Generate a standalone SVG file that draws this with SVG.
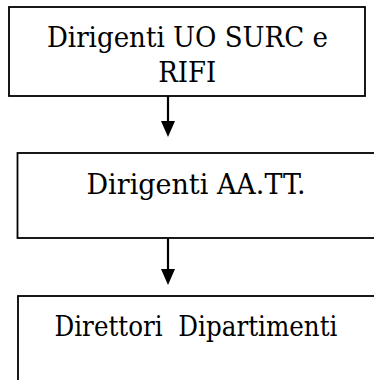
<svg xmlns="http://www.w3.org/2000/svg" width="374" height="380" viewBox="0 0 374 380">
<style>
.box{fill:#fff;stroke:#000;stroke-width:1.8}
.lbl{font-family:"DejaVu Serif",serif;font-size:28px;fill:#000;text-anchor:middle}
.conn{stroke:#000;stroke-width:2.2;fill:none}
.head{fill:#000}
</style>
<rect width="374" height="380" fill="#fff"/>
<g id="node1">
<rect class="box" x="9" y="7" width="356" height="89"/>
<text class="lbl" x="187.4" y="47" textLength="281" lengthAdjust="spacingAndGlyphs">Dirigenti UO SURC e</text>
<text class="lbl" x="187.3" y="82" textLength="58" lengthAdjust="spacingAndGlyphs">RIFI</text>
</g>
<g id="node2">
<rect class="box" x="17.5" y="153" width="362" height="85"/>
<text class="lbl" x="196" y="194" textLength="219" lengthAdjust="spacingAndGlyphs">Dirigenti AA.TT.</text>
</g>
<g id="node3">
<rect class="box" x="18" y="296" width="362" height="100"/>
<text class="lbl" x="196" y="336" textLength="283" lengthAdjust="spacingAndGlyphs" xml:space="preserve">Direttori  Dipartimenti</text>
</g>
<g id="connectors">
<line class="conn" x1="168" y1="96" x2="168" y2="122"/>
<polygon class="head" points="161,121 175,121 168,137"/>
<line class="conn" x1="168" y1="238" x2="168" y2="270"/>
<polygon class="head" points="161,269 175,269 168,285"/>
</g>
</svg>
